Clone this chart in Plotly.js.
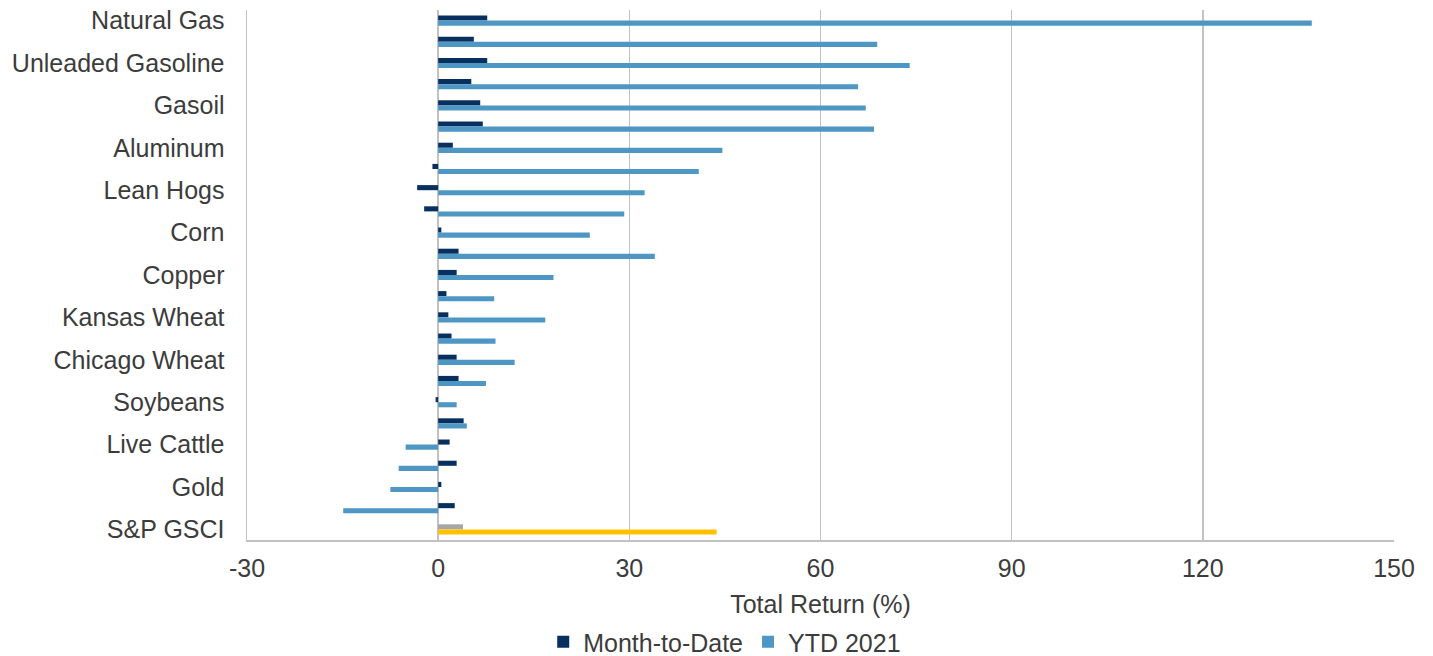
<!DOCTYPE html>
<html>
<head>
<meta charset="utf-8">
<script src="https://cdn.plot.ly/plotly-3.0.1.min.js"></script>
<style>html,body{margin:0;padding:0;background:#fff;}#chart{width:1433px;height:656px;}</style>
</head>
<body>
<div id="chart"></div>
<script>
const categories = ["Natural Gas","Brent Crude","Unleaded Gasoline","Heating Oil","Gasoil","WTI Crude",
  "Aluminum","Coffee","Lean Hogs","Cotton","Corn","Sugar","Copper","Zinc","Kansas Wheat","Lead",
  "Chicago Wheat","Nickel","Soybeans","Cocoa","Live Cattle","Feeder Cattle","Gold","Silver","S&P GSCI"];
const tickLabels = ["Natural Gas","Unleaded Gasoline","Gasoil","Aluminum","Lean Hogs","Corn","Copper",
  "Kansas Wheat","Chicago Wheat","Soybeans","Live Cattle","Gold","S&P GSCI"];
const monthToDate = [7.7,5.6,7.7,5.2,6.6,7.0,2.3,-0.9,-3.3,-2.2,0.5,3.2,2.9,1.3,1.6,2.1,2.9,3.2,-0.4,4.0,1.8,2.9,0.5,2.6,3.9];
const ytd2021 = [137.1,68.9,74.0,65.9,67.1,68.4,44.6,40.9,32.4,29.2,23.8,34.0,18.1,8.8,16.8,9.0,12.0,7.5,2.9,4.5,-5.1,-6.2,-7.5,-14.9,43.7];
const xTicks = [-30, 0, 30, 60, 90, 120, 150];

const NAVY = "#08305f", LIGHT = "#4e97c4", GRAY = "#a6a6a6", GOLD = "#ffc000";
const mtdColors = categories.map(c => c === "S&P GSCI" ? GRAY : NAVY);
const ytdColors = categories.map(c => c === "S&P GSCI" ? GOLD : LIGHT);

const font = {family: "Liberation Sans, Arial, sans-serif", size: 25, color: "#3c3c3c"};

const data = [
  {type: "bar", orientation: "h", name: "Month-to-Date", y: categories, x: monthToDate,
   marker: {color: mtdColors}, hoverinfo: "x+y"},
  {type: "bar", orientation: "h", name: "YTD 2021", y: categories, x: ytd2021,
   marker: {color: ytdColors}, hoverinfo: "x+y"}
];

const layout = {
  width: 1433, height: 656,
  margin: {l: 247, r: 39, t: 10, b: 116},
  paper_bgcolor: "#fff", plot_bgcolor: "#fff",
  font: font,
  barmode: "group", bargap: 0.52, bargroupgap: 0,
  showlegend: true,
  legend: {orientation: "h", xref: "paper", x: 0.4165, xanchor: "center",
           yref: "container", y: 1 - 642/656, yanchor: "middle",
           font: font, itemwidth: 30, traceorder: "normal"},
  xaxis: {range: [-30, 150], tickvals: xTicks, ticktext: xTicks.map(v => String(v)), ticks: "",
          automargin: false,
          showgrid: true, gridcolor: "#c2c2c2", gridwidth: 1.5,
          zeroline: true, zerolinecolor: "#c2c2c2", zerolinewidth: 1.5,
          showline: true, linecolor: "#c2c2c2", linewidth: 1.5,
          tickfont: font, ticklabelstandoff: 5,
          title: {text: "Total Return (%)", font: font, standoff: 15}},
  yaxis: {type: "category", autorange: "reversed", tickvals: tickLabels, ticktext: tickLabels,
          automargin: false,
          showgrid: false, zeroline: false, showline: true, linecolor: "#c2c2c2", linewidth: 1.5,
          ticks: "", tickfont: font, ticklabelstandoff: 16}
};

Plotly.newPlot("chart", data, layout, {staticPlot: true, displayModeBar: false});
</script>
</body>
</html>
